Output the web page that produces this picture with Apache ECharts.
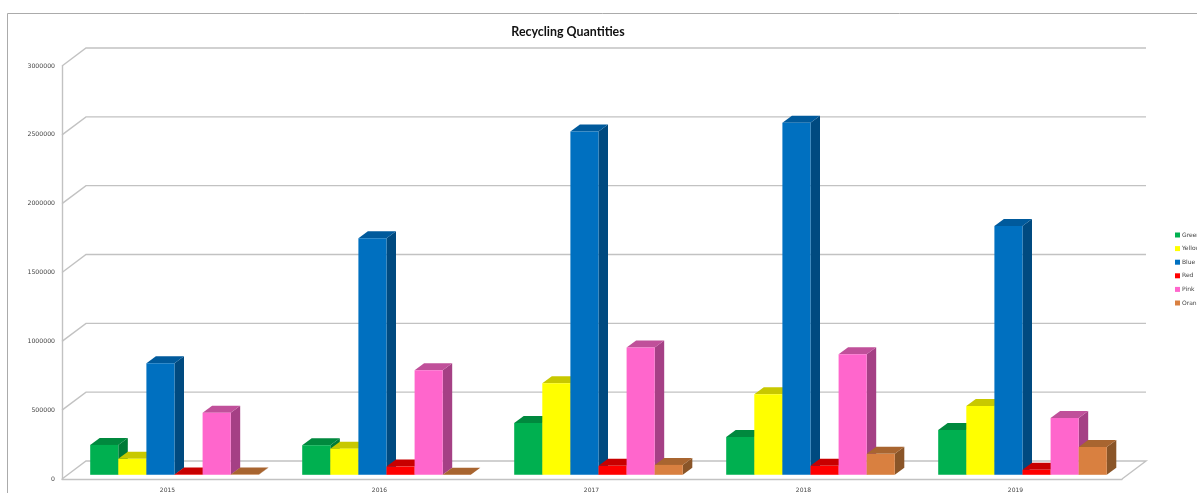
<!DOCTYPE html>
<html>
<head>
<meta charset="utf-8">
<style>html,body{margin:0;padding:0;background:#fff;overflow:hidden}#chart{width:1197px;height:493px}</style>
<script src="https://cdn.jsdelivr.net/npm/echarts@6/dist/echarts.min.js"></script>
</head>
<body>
<div id="chart"></div>
<script>
const years = ['2015', '2016', '2017', '2018', '2019'];
const green = [217000, 215000, 376000, 275000, 325000];
const yellow = [116000, 190000, 665000, 585000, 499000];
const blue = [810000, 1719000, 2493000, 2558000, 1807000];
const red = [3000, 60000, 65000, 65000, 36000];
const pink = [450000, 760000, 925000, 875000, 412000];
const orange = [2000, 1000, 72000, 152000, 202000];
const wallTicks = [0, 500000, 1000000, 1500000, 2000000, 2500000, 3000000];

// name, front, top and side face colours of each prism
const palette = [
  ['Green', green, '#00B050', '#00893E', '#007A37'],
  ['Yellow', yellow, '#FFFF00', '#C8C800', '#B0B000'],
  ['Blue', blue, '#0070C0', '#005A9C', '#004A80'],
  ['Red', red, '#FF0000', '#C80000', '#A80000'],
  ['Pink', pink, '#FF66CC', '#C0509A', '#A54085'],
  ['Orange', orange, '#D98040', '#A86530', '#8A5528']
];

const WALL_DX = 24, WALL_DY = 18;   // depth of the floor
const BAR_W = 28.1, BAR_DX = 9.5, BAR_DY = 7;   // prism width and depth
const SHIFT_X = 6.5, SHIFT_Y = 4.2; // prisms stand slightly behind the front edge
const GRID_COLOR = '#C2C2C2';

function renderWall(params, api) {
  const v = api.value(0);
  const cs = params.coordSys;
  const y = api.coord([0, v])[1];
  const x0 = cs.x, x1 = cs.x + cs.width;
  const style = { stroke: GRID_COLOR, lineWidth: 1.4, fill: 'none' };
  const points = v === 0
    ? [[x0, y], [x0 + WALL_DX, y - WALL_DY], [x1 + WALL_DX, y - WALL_DY], [x1, y]]
    : [[x0, y], [x0 + WALL_DX, y - WALL_DY], [x1 + WALL_DX, y - WALL_DY]];
  return { type: 'polyline', shape: { points }, style };
}

function prismRenderer(slot, front, top, side) {
  return function (params, api) {
    const i = api.value(0);
    const base = api.coord([i, 0]);
    const tip = api.coord([i, api.value(1)]);
    const x = base[0] - 3 * BAR_W + slot * BAR_W + SHIFT_X;
    const xr = x + BAR_W;
    const yb = base[1] - SHIFT_Y;
    const yt = tip[1] - SHIFT_Y;
    const poly = (points, fill) => ({
      type: 'polygon', shape: { points }, style: { fill, stroke: null }
    });
    return {
      type: 'group',
      children: [
        poly([[xr, yb], [xr + BAR_DX, yb - BAR_DY], [xr + BAR_DX, yt - BAR_DY], [xr, yt]], side),
        poly([[x, yt], [x + BAR_DX, yt - BAR_DY], [xr + BAR_DX, yt - BAR_DY], [xr, yt]], top),
        poly([[x, yb], [xr, yb], [xr, yt], [x, yt]], front)
      ]
    };
  };
}

const prismSeries = palette.map(([name, values, front, top, side], slot) => ({
  name,
  type: 'custom',
  z: 3 + slot,
  itemStyle: { color: front },
  encode: { x: 0, y: 1 },
  data: values.map((v, i) => [i, v]),
  renderItem: prismRenderer(slot, front, top, side)
}));

const chart = echarts.init(document.getElementById('chart'), null, { renderer: 'canvas' });
chart.setOption({
  animation: false,
  backgroundColor: '#fff',
  title: {
    text: 'Recycling Quantities',
    left: 563, top: 20, textAlign: 'center',
    textStyle: { fontFamily: 'Lato', fontSize: 12.4, fontWeight: 'bold', color: '#111', lineHeight: 14 }
  },
  legend: {
    left: 1170, top: 227,
    orient: 'vertical',
    itemWidth: 5, itemHeight: 5, itemGap: 7.6,
    icon: 'rect',
    data: palette.map(p => p[0]),
    textStyle: { fontFamily: 'DejaVu Sans', fontSize: 6, color: '#444', padding: [0, 0, 0, -3] }
  },
  grid: { left: 62, top: 66, width: 1060, height: 414.5 },
  xAxis: {
    type: 'category',
    data: years,
    axisTick: { show: false },
    axisLine: { show: true, lineStyle: { color: GRID_COLOR, width: 1.4 } },
    axisLabel: { fontFamily: 'DejaVu Sans', fontSize: 6, color: '#444', margin: 8, padding: [0, 1, 0, 0] },
    splitLine: { show: false }
  },
  yAxis: {
    type: 'value',
    min: 0, max: 3000000, interval: 500000,
    axisTick: { show: false },
    axisLine: { show: true, lineStyle: { color: GRID_COLOR, width: 1.4 } },
    axisLabel: {
      fontFamily: 'DejaVu Sans', fontSize: 6.2, color: '#444', margin: 7,
      padding: [7, 0, 0, 0],
      formatter: v => String(v)
    },
    splitLine: { show: false }
  },
  graphic: [{
    type: 'polyline',
    silent: true,
    shape: { points: [[7.5, 493], [7.5, 13.5], [1197, 13.5]] },
    style: { stroke: '#ABABAB', lineWidth: 1, fill: 'none' }
  }],
  series: [{
    type: 'custom',
    z: 1,
    encode: { y: 0 },
    data: wallTicks.map(v => [v]),
    renderItem: renderWall
  }].concat(prismSeries)
});
</script>
</body>
</html>
